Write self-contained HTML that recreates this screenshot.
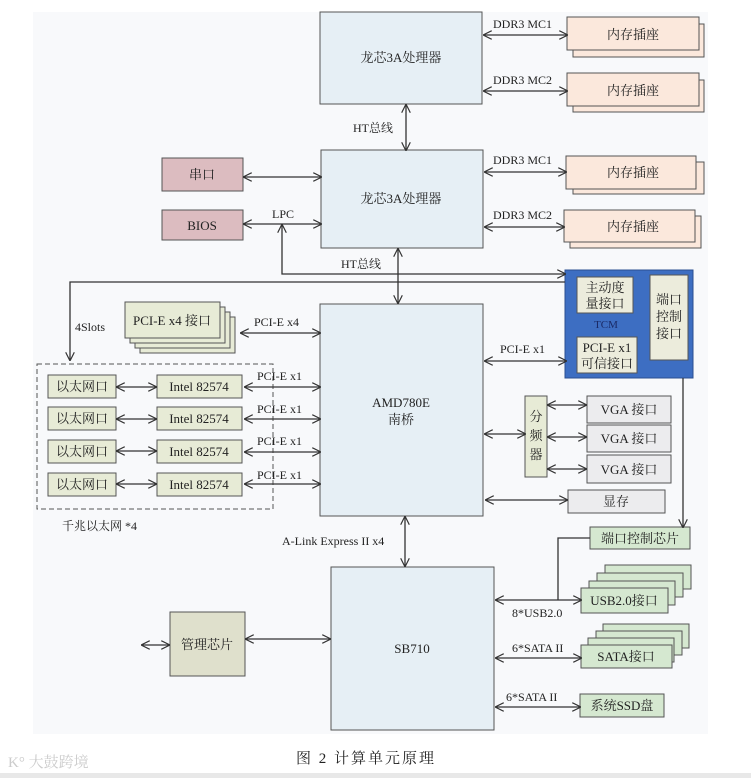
<!DOCTYPE html>
<html><head><meta charset="utf-8"><style>
html,body{margin:0;padding:0;background:#fff;}
svg{display:block;}
text{font-family:"Liberation Serif","Noto Serif CJK SC",serif;fill:#222;}
</style></head><body>
<svg width="751" height="778" viewBox="0 0 751 778" xmlns="http://www.w3.org/2000/svg">
<defs>
<marker id="a" viewBox="0 0 10 10" refX="9" refY="5" markerWidth="9" markerHeight="9" orient="auto-start-reverse" markerUnits="userSpaceOnUse"><path d="M0,0 L10,5 L0,10" fill="none" stroke="#333" stroke-width="1.3"/></marker>
</defs>
<rect x="33" y="12" width="675" height="722" fill="#f8f9fb"/>
<g stroke="#555" stroke-width="1" font-size="12">
<!-- CPUs -->
<rect x="320" y="12" width="162" height="92" fill="#e6eff5"/>
<rect x="321" y="150" width="162" height="98" fill="#e6eff5"/>
<!-- memory -->
<g fill="#fbe8dc">
<rect x="573" y="24" width="131" height="33"/><rect x="567" y="17" width="132" height="33"/>
<rect x="573" y="80" width="131" height="32"/><rect x="567" y="73" width="132" height="33"/>
<rect x="573" y="162" width="131" height="32"/><rect x="566" y="156" width="130" height="33"/>
<rect x="570" y="216" width="131" height="32"/><rect x="564" y="210" width="131" height="32"/>
</g>
<rect x="162" y="158" width="81" height="33" fill="#dcbcc0"/>
<rect x="162" y="210" width="81" height="30" fill="#dcbcc0"/>
<!-- TCM -->
<rect x="565" y="270" width="128" height="108" fill="#3d6ec2" stroke="#2a4e90"/>
<rect x="577" y="277" width="56" height="36" fill="#ececdc"/>
<rect x="650" y="275" width="38" height="85" fill="#ececdc"/>
<rect x="577" y="337" width="60" height="36" fill="#ececdc"/>
<!-- southbridge -->
<rect x="320" y="304" width="163" height="212" fill="#e6eff5"/>
<!-- PCIe x4 stack -->
<g fill="#e7ebd6">
<rect x="140" y="317" width="95" height="36"/><rect x="135" y="312" width="95" height="36"/><rect x="130" y="307" width="95" height="36"/><rect x="125" y="302" width="95" height="36"/>
</g>
<rect x="37" y="364" width="236" height="145" fill="none" stroke-dasharray="5,3"/>
<g fill="#e7ebd6">
<rect x="48" y="375" width="68" height="23"/><rect x="48" y="407" width="68" height="23"/><rect x="48" y="440" width="68" height="23"/><rect x="48" y="473" width="68" height="23"/>
<rect x="157" y="375" width="85" height="23"/><rect x="157" y="407" width="85" height="23"/><rect x="157" y="440" width="85" height="23"/><rect x="157" y="473" width="85" height="23"/>
<rect x="525" y="396" width="22" height="81"/>
</g>
<g fill="#ececee">
<rect x="587" y="396" width="84" height="27"/><rect x="587" y="425" width="84" height="27"/><rect x="587" y="455" width="84" height="28"/>
<rect x="568" y="490" width="97" height="23"/>
</g>
<rect x="590" y="527" width="100" height="22" fill="#d5e8d0"/>
<rect x="331" y="567" width="163" height="163" fill="#e6eff5"/>
<rect x="170" y="612" width="75" height="64" fill="#dfe0cc"/>
<g fill="#d5e8d0">
<rect x="605" y="565" width="86" height="24"/><rect x="597" y="573" width="86" height="24"/><rect x="589" y="581" width="86" height="24"/><rect x="581" y="588" width="87" height="25"/>
<rect x="603" y="624" width="86" height="24"/><rect x="596" y="631" width="86" height="24"/><rect x="588" y="638" width="86" height="24"/><rect x="581" y="645" width="91" height="23"/>
<rect x="580" y="694" width="84" height="23"/>
</g>
</g>
<!-- connectors -->
<g stroke="#333" stroke-width="1.3" fill="none">
<path d="M484 35H567" marker-start="url(#a)" marker-end="url(#a)"/>
<path d="M484 91H567" marker-start="url(#a)" marker-end="url(#a)"/>
<path d="M485 172H566" marker-start="url(#a)" marker-end="url(#a)"/>
<path d="M485 227H564" marker-start="url(#a)" marker-end="url(#a)"/>
<path d="M406 105V150" marker-start="url(#a)" marker-end="url(#a)"/>
<path d="M244 177H321" marker-start="url(#a)" marker-end="url(#a)"/>
<path d="M244 224H321" marker-start="url(#a)" marker-end="url(#a)"/>
<path d="M282 225V274H565" marker-start="url(#a)" marker-end="url(#a)"/>
<path d="M398 249V303" marker-start="url(#a)" marker-end="url(#a)"/>
<path d="M565 282H70V360" marker-end="url(#a)"/>
<path d="M241 333H320" marker-start="url(#a)" marker-end="url(#a)"/>
<path d="M245 387H320" marker-start="url(#a)" marker-end="url(#a)"/>
<path d="M245 419H320" marker-start="url(#a)" marker-end="url(#a)"/>
<path d="M245 452H320" marker-start="url(#a)" marker-end="url(#a)"/>
<path d="M245 484H320" marker-start="url(#a)" marker-end="url(#a)"/>
<path d="M117 387H156" marker-start="url(#a)" marker-end="url(#a)"/>
<path d="M117 419H156" marker-start="url(#a)" marker-end="url(#a)"/>
<path d="M117 451H156" marker-start="url(#a)" marker-end="url(#a)"/>
<path d="M117 484H156" marker-start="url(#a)" marker-end="url(#a)"/>
<path d="M485 361H566" marker-start="url(#a)" marker-end="url(#a)"/>
<path d="M485 434H525" marker-start="url(#a)" marker-end="url(#a)"/>
<path d="M548 405H586" marker-start="url(#a)" marker-end="url(#a)"/>
<path d="M548 437H586" marker-start="url(#a)" marker-end="url(#a)"/>
<path d="M548 469H586" marker-start="url(#a)" marker-end="url(#a)"/>
<path d="M486 500H567" marker-start="url(#a)" marker-end="url(#a)"/>
<path d="M683 378V527" marker-end="url(#a)"/>
<path d="M405 517V566" marker-start="url(#a)" marker-end="url(#a)"/>
<path d="M246 639H330" marker-start="url(#a)" marker-end="url(#a)"/>
<path d="M142 645H169" marker-start="url(#a)" marker-end="url(#a)"/>
<path d="M496 600H581" marker-start="url(#a)" marker-end="url(#a)"/>
<path d="M558 600V538H590"/>
<path d="M496 658H581" marker-start="url(#a)" marker-end="url(#a)"/>
<path d="M496 707H580" marker-start="url(#a)" marker-end="url(#a)"/>
</g>
<!-- labels -->
<g font-size="13" text-anchor="middle">
<text x="401" y="62">龙芯3A处理器</text>
<text x="401" y="203">龙芯3A处理器</text>
<text x="633" y="39">内存插座</text><text x="633" y="95">内存插座</text>
<text x="633" y="177">内存插座</text><text x="633" y="231">内存插座</text>
<text x="202" y="179">串口</text><text x="202" y="230">BIOS</text>
<text x="401" y="407">AMD780E</text><text x="401" y="424">南桥</text>
<text x="172" y="325">PCI-E x4 接口</text>
<text x="82" y="391">以太网口</text><text x="82" y="423">以太网口</text><text x="82" y="456">以太网口</text><text x="82" y="489">以太网口</text>
<text x="199" y="391">Intel 82574</text><text x="199" y="423">Intel 82574</text><text x="199" y="456">Intel 82574</text><text x="199" y="489">Intel 82574</text>
<text x="536" y="421">分</text><text x="536" y="440">频</text><text x="536" y="459">器</text>
<text x="629" y="414">VGA 接口</text><text x="629" y="443">VGA 接口</text><text x="629" y="474">VGA 接口</text>
<text x="616" y="506">显存</text>
<text x="640" y="543">端口控制芯片</text>
<text x="412" y="653">SB710</text>
<text x="207" y="649">管理芯片</text>
<text x="624" y="605">USB2.0接口</text>
<text x="626" y="661">SATA接口</text>
<text x="622" y="710">系统SSD盘</text>
<text x="605" y="292">主动度</text><text x="605" y="308">量接口</text>
<text x="669" y="304">端口</text><text x="669" y="321">控制</text><text x="669" y="338">接口</text>
<text x="607" y="352">PCI-E x1</text><text x="607" y="368">可信接口</text>
<text x="606" y="328" font-size="11" style="fill:#1a2a66">TCM</text>
</g>
<g font-size="12">
<text x="493" y="28">DDR3 MC1</text><text x="493" y="84">DDR3 MC2</text>
<text x="493" y="164">DDR3 MC1</text><text x="493" y="219">DDR3 MC2</text>
<text x="353" y="132">HT总线</text><text x="341" y="268">HT总线</text>
<text x="272" y="218">LPC</text>
<text x="75" y="331">4Slots</text>
<text x="254" y="326">PCI-E x4</text>
<text x="500" y="353">PCI-E x1</text>
<text x="257" y="380">PCI-E x1</text><text x="257" y="413">PCI-E x1</text><text x="257" y="445">PCI-E x1</text><text x="257" y="479">PCI-E x1</text>
<text x="62" y="530">千兆以太网  *4</text>
<text x="282" y="545">A-Link Express II x4</text>
<text x="512" y="617">8*USB2.0</text>
<text x="512" y="652">6*SATA II</text>
<text x="506" y="701">6*SATA II</text>
</g>
<text x="296" y="763" font-size="15" letter-spacing="2">图 2   计算单元原理</text>
<text x="8" y="767" font-size="15" style="fill:#ccc">K° 大鼓跨境</text>
<rect x="0" y="773" width="751" height="5" fill="#e8e8e8"/>
</svg>
</body></html>
